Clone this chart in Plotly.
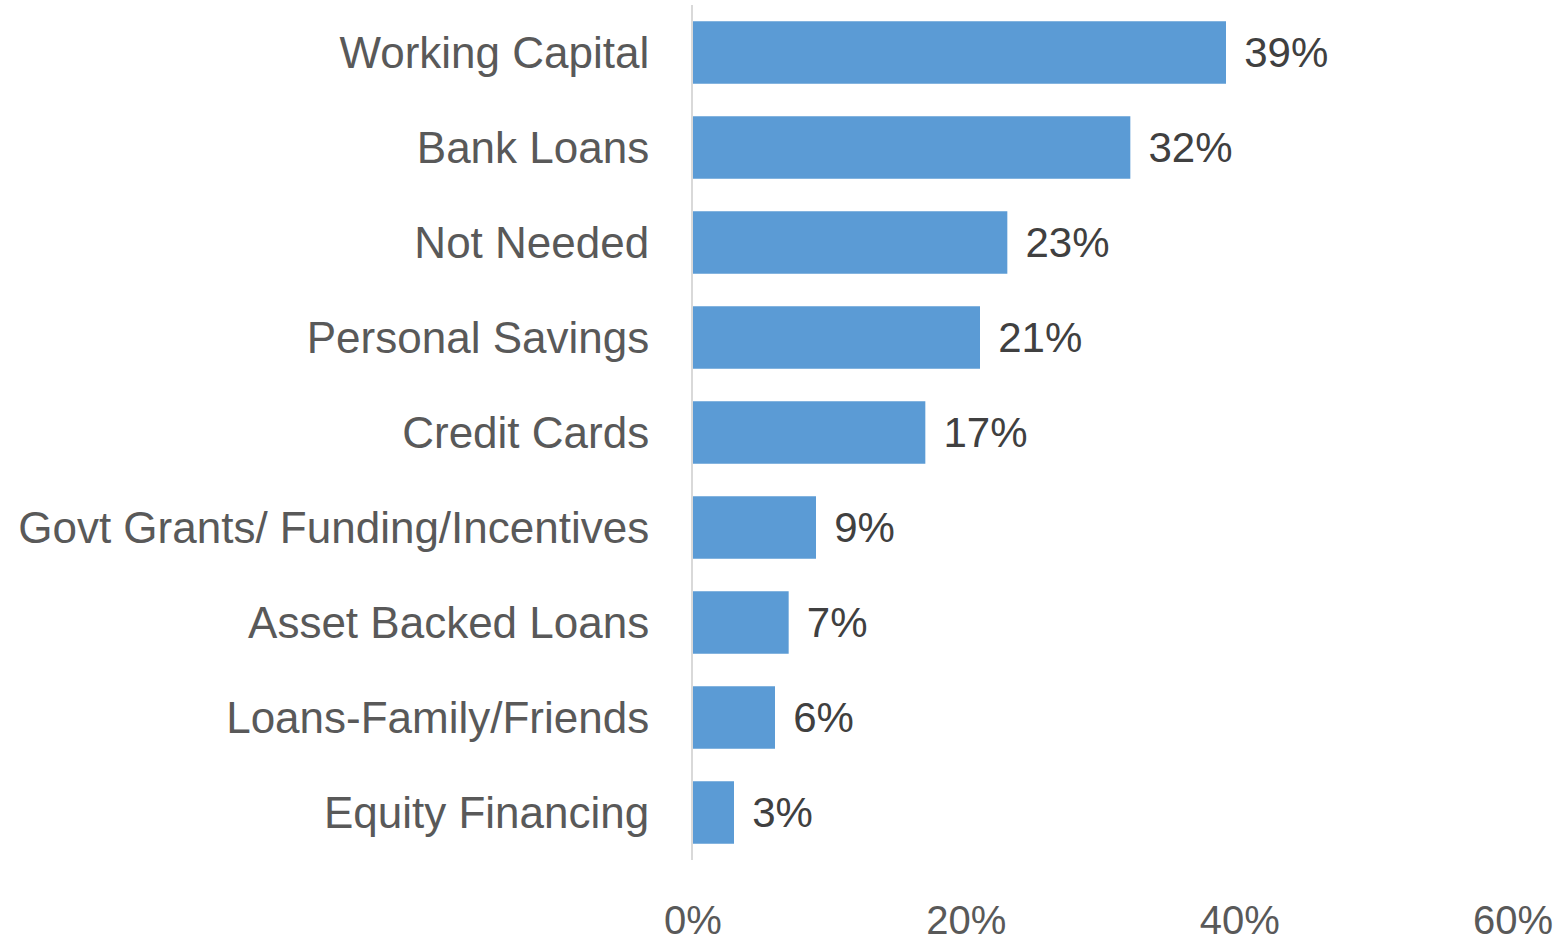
import plotly.graph_objects as go

categories = [
    "Working Capital",
    "Bank Loans",
    "Not Needed",
    "Personal Savings",
    "Credit Cards",
    "Govt Grants/ Funding/Incentives",
    "Asset Backed Loans",
    "Loans-Family/Friends",
    "Equity Financing",
]
values = [39, 32, 23, 21, 17, 9, 7, 6, 3]
tick_values = [0, 20, 40, 60]
tick_labels = ["0%", "20%", "40%", "60%"]

FONT = "Liberation Sans, Arial, sans-serif"

fig = go.Figure(
    go.Bar(
        x=values,
        y=categories,
        orientation="h",
        marker=dict(color="#5B9BD5", line=dict(width=0)),
        width=0.66,
        text=[f"\u00a0\u200a{v}%" for v in values],
        textposition="outside",
        textfont=dict(family=FONT, size=42, color="#404040"),
        cliponaxis=False,
        hoverinfo="skip",
    )
)

fig.update_layout(
    width=1560,
    height=942,
    margin=dict(l=693, r=47, t=5, b=82, autoexpand=False),
    plot_bgcolor="white",
    paper_bgcolor="white",
    showlegend=False,
    font=dict(family=FONT),
)

fig.update_xaxes(
    range=[0, 60],
    tickvals=tick_values,
    ticktext=tick_labels,
    showgrid=False,
    zeroline=False,
    showline=False,
    ticks="",
    automargin=False,
    ticklabelstandoff=33,
    tickfont=dict(family=FONT, size=40, color="#595959"),
)

fig.update_yaxes(
    categoryorder="array",
    categoryarray=categories[::-1],
    showgrid=False,
    zeroline=False,
    showline=True,
    linecolor="#D9D9D9",
    linewidth=2,
    ticks="",
    automargin=False,
    ticklabelstandoff=33,
    tickfont=dict(family=FONT, size=44, color="#595959"),
)

fig.write_html(
    "out.html",
    config={"displayModeBar": False},
    post_script="document.body.style.margin='0';document.body.style.overflow='hidden';",
)
